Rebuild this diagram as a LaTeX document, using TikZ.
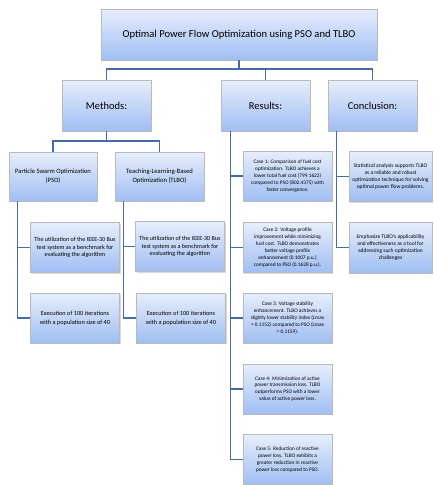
\documentclass[tikz,border=0pt]{standalone}
\usepackage{fontspec}
\setmainfont{Carlito}
\usetikzlibrary{shadows,calc}
\definecolor{boxtop}{RGB}{230,238,252}
\definecolor{boxbot}{RGB}{160,190,243}
\definecolor{linkblue}{RGB}{68,108,168}

\begin{document}
\begin{tikzpicture}[x=1pt,y=-1pt]
\tikzset{card/.style = {draw=gray!55, top color=boxtop, bottom color=boxbot, align=center, inner sep=1pt,
  drop shadow={shadow xshift=1.2pt, shadow yshift=-1.2pt, opacity=0.3}}}
\tikzset{head/.style = {card, minimum width=89pt, minimum height=51pt, font=\fontsize{10.5}{12}\selectfont}}
\tikzset{leaf/.style = {card, minimum width=89pt, minimum height=50pt}}
\tikzset{link/.style = {draw=linkblue, line width=1.3pt}}

\useasboundingbox (0,0) rectangle (434,485);

\node[card, minimum width=276pt, minimum height=51pt, font=\fontsize{10.6}{12}\selectfont] (title) at (239,34.5) {Optimal Power Flow Optimization using PSO and TLBO};

\node[head] (methods) at (106.5,105.5) {Methods:};
\node[head] (results) at (265.5,105.5) {Results:};
\node[head] (concl) at (372.5,105.5) {Conclusion:};

% methods side
\node[leaf, minimum width=88pt, minimum height=49pt, font=\fontsize{6.6}{9}\selectfont] (pso) at (53,176.5) {Particle Swarm Optimization\\(PSO)};
\node[leaf, minimum height=49pt, font=\fontsize{6.6}{9}\selectfont] (tlbo) at (159.5,176.5) {Teaching-Learning-Based\\Optimization (TLBO)};

\foreach \pos/\name in {{(75,247.5)/psoA}, {(180,246.5)/tlboA}}
\node[leaf, font=\fontsize{6.1}{7.8}\selectfont] (\name) at \pos {The utilization of the IEEE-30 Bus\\test system as a benchmark for\\evaluating the algorithm};
\foreach \pos/\name in {{(75,318)/psoB}, {(181,318)/tlboB}}
\node[leaf, font=\fontsize{6.3}{9}\selectfont] (\name) at \pos {Execution of 100 iterations\\with a population size of 40};

% results side
\foreach \y/\name/\txt in {176/caseA/{Case 1: Comparison of fuel cost\\optimization. TLBO achieves a\\lower total fuel cost (799.1622)\\compared to PSO (802.4375) with\\faster convergence.},
  247.5/caseB/{Case 2: Voltage profile\\improvement while minimizing\\fuel cost. TLBO demonstrates\\better voltage profile\\enhancement (0.1007 p.u.)\\compared to PSO (0.1628 p.u.).},
  318/caseC/{Case 3: Voltage stability\\enhancement. TLBO achieves a\\slightly lower stability index (Lmax\\= 0.1152) compared to PSO (Lmax\\= 0.1159).},
  389/caseD/{Case 4: Minimization of active\\power transmission loss. TLBO\\outperforms PSO with a lower\\value of active power loss.},
  459.5/caseE/{Case 5: Reduction of reactive\\power loss. TLBO exhibits a\\greater reduction in reactive\\power loss compared to PSO.}}
\node[leaf, font=\fontsize{5.3}{6.9}\selectfont] (\name) at (287.5,\y) {\txt};

% conclusion side
\node[leaf, minimum width=83pt, font=\fontsize{5.5}{7.2}\selectfont] (conclA) at (390.5,176.5) {Statistical analysis supports TLBO\\as a reliable and robust\\optimization technique for solving\\optimal power flow problems.};
\node[leaf, minimum width=83pt, minimum height=51pt, font=\fontsize{5.5}{7.2}\selectfont] (conclB) at (390.5,247.5) {Emphasize TLBO's applicability\\and effectiveness as a tool for\\addressing such optimization\\challenges};

% connectors
\coordinate (bus) at (239,69);
\coordinate (mbus) at (106.5,141);
\draw[link] (title.south) -- (bus);
\draw[link] (methods.north) |- (bus) -| (concl.north);
\draw[link] (results.north) -- (results.north |- bus);
\draw[link] (methods.south) -- (mbus);
\draw[link] (pso.north) |- (mbus) -| (tlbo.north);

\foreach \from/\to in {pso/psoA, pso/psoB, tlbo/tlboA, tlbo/tlboB, concl/conclA, concl/conclB}
\draw[link] ($(\from.south west)+(9,0)$) |- (\to.west);

\foreach \to in {caseA, caseB, caseC, caseD, caseE}
\draw[link] ($(results.south west)+(10,0)$) |- (\to.west);

\end{tikzpicture}
\end{document}
